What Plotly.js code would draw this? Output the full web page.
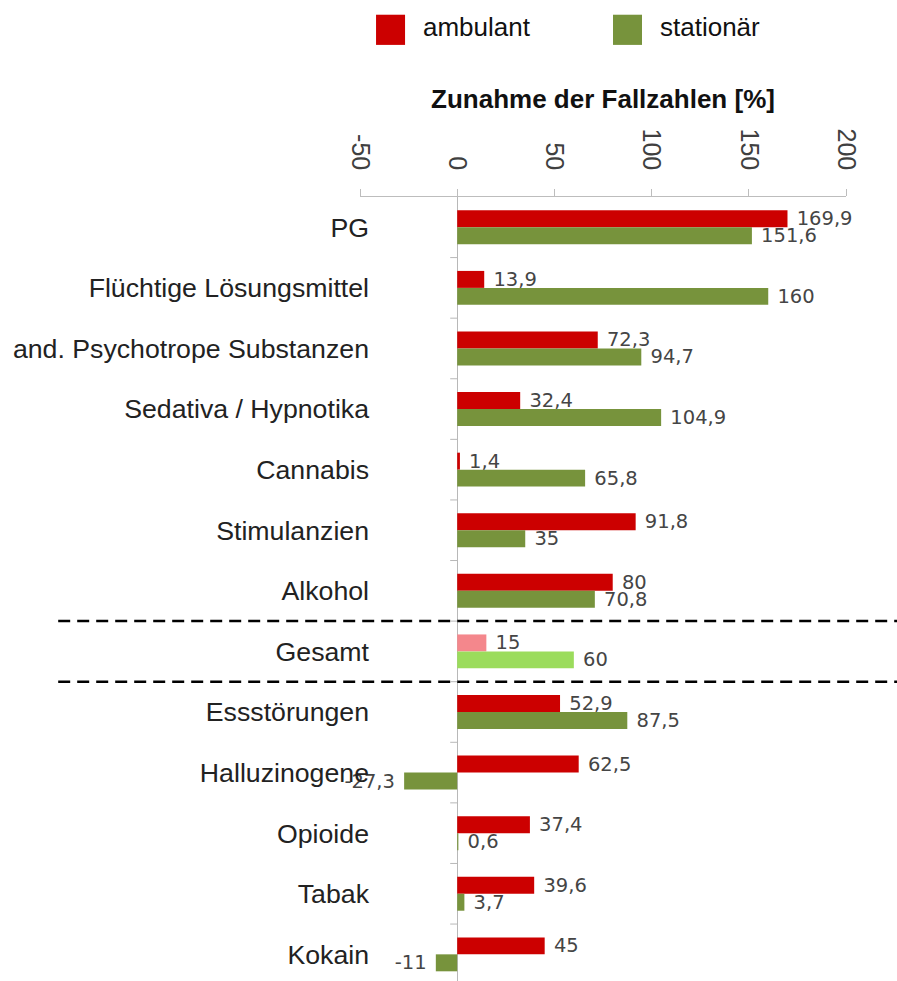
<!DOCTYPE html>
<html>
<head>
<meta charset="utf-8">
<script src="https://cdn.plot.ly/plotly-3.0.1.min.js"></script>
<style>html,body{margin:0;padding:0;background:#fff;}#chart{width:897px;height:981px;}</style>
</head>
<body>
<div id="chart"></div>
<script>
const categories = ["PG","Flüchtige Lösungsmittel","and. Psychotrope Substanzen","Sedativa / Hypnotika","Cannabis","Stimulanzien","Alkohol","Gesamt","Essstörungen","Halluzinogene","Opioide","Tabak","Kokain"];
const ambulant = [169.9,13.9,72.3,32.4,1.4,91.8,80,15,52.9,62.5,37.4,39.6,45];
const stationaer = [151.6,160,94.7,104.9,65.8,35,70.8,60,87.5,-27.3,0.6,3.7,-11];
const seriesNames = ["ambulant","stationär"];
const xTicks = [-50,0,50,100,150,200];
const highlightCategory = "Gesamt";
const axisTitle = "Zunahme der Fallzahlen [%]";

const RED = "#cc0000", RED_LIGHT = "#f4878c";
const GREEN = "#77933c", GREEN_LIGHT = "#9bdc5c";

function fmt(v){
  const s = String(v).replace(".", ",");
  return v < 0 ? s + " " : " " + s;
}
function colors(base, light){
  return categories.map(c => c === highlightCategory ? light : base);
}
const labelFont = {family:"'DejaVu Sans', sans-serif", size:19.5, color:"#454545"};

const traces = [
  {type:"bar", orientation:"h", name:seriesNames[0], y:categories, x:ambulant,
   text:ambulant.map(fmt), textposition:"outside", textfont:labelFont, constraintext:"none",
   cliponaxis:false, marker:{color:colors(RED, RED_LIGHT)}, hoverinfo:"x+y"},
  {type:"bar", orientation:"h", name:seriesNames[1], y:categories, x:stationaer,
   text:stationaer.map(fmt), textposition:"outside", textfont:labelFont, constraintext:"none",
   cliponaxis:false, marker:{color:colors(GREEN, GREEN_LIGHT)}, hoverinfo:"x+y"}
];

const shapes = [];
// dashed separators around the highlighted category
const hi = categories.indexOf(highlightCategory);
[hi - 0.5, hi + 0.5].forEach(yv => {
  shapes.push({type:"line", xref:"paper", yref:"y", x0:-0.621, x1:1.11, y0:yv, y1:yv,
    line:{color:"#000", width:2.5, dash:"12px,7px"}});
});
// small category boundary ticks at zero line
for (let i = 0; i < categories.length - 1; i++) {
  shapes.push({type:"line", xref:"x", yref:"y", x0:-3.6, x1:0, y0:i+0.5, y1:i+0.5,
    line:{color:"#b8b8b8", width:1}});
}
// legend swatches
const legendX = [0.033, 0.5206];
const swW = 0.0597;
[RED, GREEN].forEach((c, k) => {
  shapes.push({type:"rect", xref:"paper", yref:"paper", x0:legendX[k], x1:legendX[k]+swW,
    y0:1.194, y1:1.2325, fillcolor:c, line:{width:0}});
});
const annotations = seriesNames.map((n, k) => ({
  xref:"paper", yref:"paper", x:legendX[k]+swW+0.033, y:1.217, xanchor:"left", yanchor:"middle",
  text:n, showarrow:false, font:{family:"Liberation Sans, Arial, sans-serif", size:26, color:"#111"}
}));

const layout = {
  width:897, height:981,
  margin:{l:360, r:51, t:197, b:0, pad:0},
  paper_bgcolor:"#fff", plot_bgcolor:"#fff",
  barmode:"group", bargap:0.44, bargroupgap:0,
  showlegend:false,
  font:{family:"Liberation Sans, Arial, sans-serif"},
  xaxis:{
    side:"top", range:[-50,200], tickvals:xTicks, ticktext:xTicks.map(String),
    tickangle:90, tickfont:{size:25, color:"#404040"},
    showline:true, linecolor:"#bdbdbd", linewidth:1,
    ticks:"outside", ticklen:7, tickcolor:"#bdbdbd", ticklabelstandoff:10,
    showgrid:false, zeroline:true, zerolinecolor:"#b8b8b8", zerolinewidth:1,
    title:{text:"<b>"+axisTitle+"</b>", standoff:12, font:{size:26, color:"#111"}}
  },
  yaxis:{
    type:"category", range:[12.44, -0.5], autorange:false,
    tickfont:{size:26.7, color:"#222"}, showgrid:false, zeroline:false,
    showline:false, ticks:"", ticklabelstandoff:-10
  },
  shapes:shapes, annotations:annotations
};

Plotly.newPlot("chart", traces, layout, {displayModeBar:false, staticPlot:true});
</script>
</body>
</html>
